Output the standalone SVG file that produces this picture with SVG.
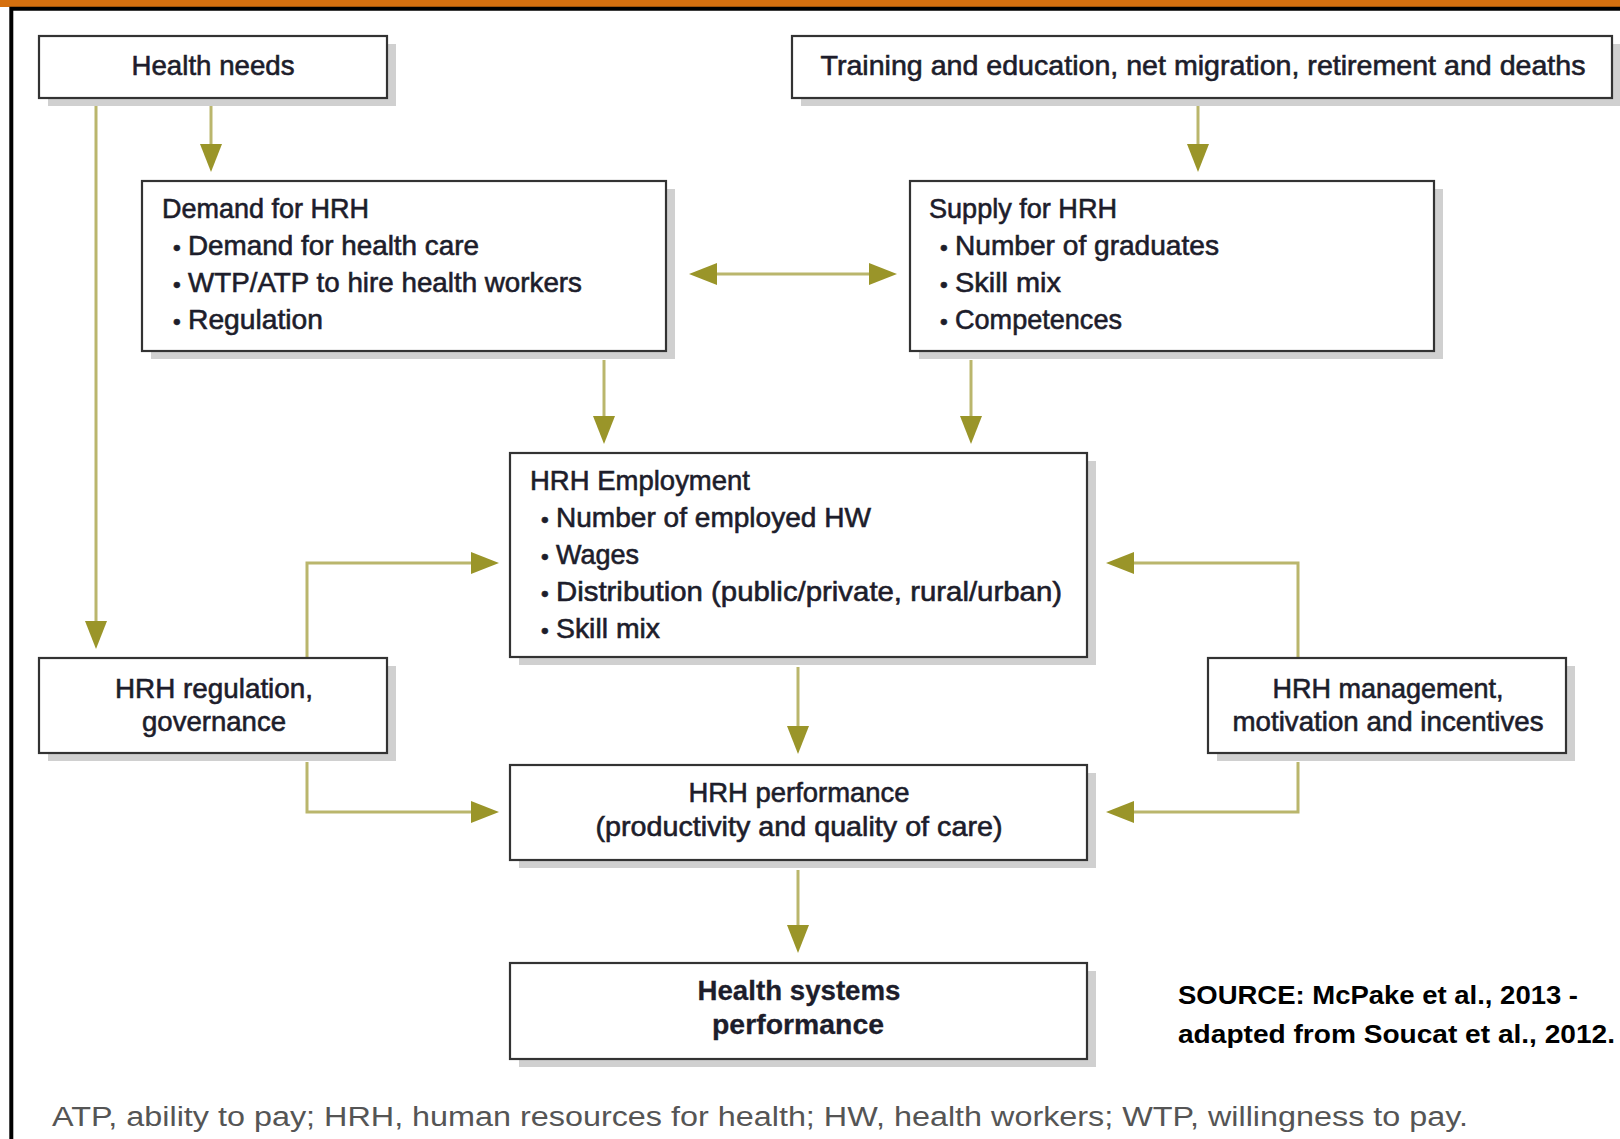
<svg xmlns="http://www.w3.org/2000/svg" width="1620" height="1139" viewBox="0 0 1620 1139">
<style>
.box{fill:#fff;stroke:#333;stroke-width:2.2}
.sh{fill:#d0d0d0}
.t{font-family:"Liberation Sans",Arial,sans-serif;font-size:28px;fill:#1d1d2b;stroke:#1d1d2b;stroke-width:0.6}
.c{text-anchor:middle}
.bd{font-weight:bold;stroke-width:0.3}
.bu{font-size:22px}
.ln{fill:none;stroke:#bab66c;stroke-width:3;marker-end:url(#ah)}
.dbl{marker-start:url(#ah)}
.src{font-family:"Liberation Sans",Arial,sans-serif;font-size:26px;font-weight:bold;fill:#000}
.fn{font-family:"Liberation Sans",Arial,sans-serif;font-size:27px;fill:#555}
</style>
<defs>
<marker id="ah" markerUnits="userSpaceOnUse" markerWidth="30" markerHeight="24" viewBox="0 -12 30 24" refX="0" refY="0" orient="auto-start-reverse">
<path d="M0,-11 L28,0 L0,11 Z" fill="#9a9529"/>
</marker>
</defs>
<rect x="0" y="0" width="1620" height="1139" fill="#fff"/>
<rect x="0" y="0" width="1620" height="7" fill="#d5700f"/>
<path d="M11.3,1139 V8.7 H1620" fill="none" stroke="#000" stroke-width="4"/>

<g id="connectors">
<path class="ln" d="M211,105 V144"/>
<path class="ln" d="M96,105 V621"/>
<path class="ln" d="M1198,106 V144"/>
<path class="ln dbl" d="M717,274 H869"/>
<path class="ln" d="M604,360 V416"/>
<path class="ln" d="M971,360 V416"/>
<path class="ln" d="M307,657 V563 H471"/>
<path class="ln" d="M307,762 V812 H471"/>
<path class="ln" d="M1298,657 V563 H1134"/>
<path class="ln" d="M1298,762 V812 H1134"/>
<path class="ln" d="M798,667 V726"/>
<path class="ln" d="M798,870 V925"/>
</g>

<g id="health-needs">
<rect class="sh" x="48" y="44" width="348" height="62"/>
<rect class="box" x="39" y="36" width="348" height="62"/>
<text class="t c" x="213" y="75" textLength="163" lengthAdjust="spacingAndGlyphs">Health needs</text>
</g>

<g id="training">
<rect class="sh" x="801" y="44" width="820" height="62"/>
<rect class="box" x="792" y="36" width="820" height="62"/>
<text class="t c" x="1203" y="75" textLength="765" lengthAdjust="spacingAndGlyphs">Training and education, net migration, retirement and deaths</text>
</g>

<g id="demand">
<rect class="sh" x="151" y="189" width="524" height="170"/>
<rect class="box" x="142" y="181" width="524" height="170"/>
<text class="t" x="162" y="218" textLength="207" lengthAdjust="spacingAndGlyphs">Demand for HRH</text>
<text class="t" y="255"><tspan class="bu" x="173">•</tspan><tspan x="188" textLength="291" lengthAdjust="spacingAndGlyphs">Demand for health care</tspan></text>
<text class="t" y="292"><tspan class="bu" x="173">•</tspan><tspan x="188" textLength="394" lengthAdjust="spacingAndGlyphs">WTP/ATP to hire health workers</tspan></text>
<text class="t" y="329"><tspan class="bu" x="173">•</tspan><tspan x="188" textLength="135" lengthAdjust="spacingAndGlyphs">Regulation</tspan></text>
</g>

<g id="supply">
<rect class="sh" x="919" y="189" width="524" height="170"/>
<rect class="box" x="910" y="181" width="524" height="170"/>
<text class="t" x="929" y="218" textLength="188" lengthAdjust="spacingAndGlyphs">Supply for HRH</text>
<text class="t" y="255"><tspan class="bu" x="940">•</tspan><tspan x="955" textLength="264" lengthAdjust="spacingAndGlyphs">Number of graduates</tspan></text>
<text class="t" y="292"><tspan class="bu" x="940">•</tspan><tspan x="955" textLength="106" lengthAdjust="spacingAndGlyphs">Skill mix</tspan></text>
<text class="t" y="329"><tspan class="bu" x="940">•</tspan><tspan x="955" textLength="167" lengthAdjust="spacingAndGlyphs">Competences</tspan></text>
</g>

<g id="employment">
<rect class="sh" x="519" y="461" width="577" height="204"/>
<rect class="box" x="510" y="453" width="577" height="204"/>
<text class="t" x="530" y="490" textLength="220" lengthAdjust="spacingAndGlyphs">HRH Employment</text>
<text class="t" y="527"><tspan class="bu" x="541">•</tspan><tspan x="556" textLength="315" lengthAdjust="spacingAndGlyphs">Number of employed HW</tspan></text>
<text class="t" y="564"><tspan class="bu" x="541">•</tspan><tspan x="556" textLength="83" lengthAdjust="spacingAndGlyphs">Wages</tspan></text>
<text class="t" y="601"><tspan class="bu" x="541">•</tspan><tspan x="556" textLength="506" lengthAdjust="spacingAndGlyphs">Distribution (public/private, rural/urban)</tspan></text>
<text class="t" y="638"><tspan class="bu" x="541">•</tspan><tspan x="556" textLength="104" lengthAdjust="spacingAndGlyphs">Skill mix</tspan></text>
</g>

<g id="regulation">
<rect class="sh" x="48" y="666" width="348" height="95"/>
<rect class="box" x="39" y="658" width="348" height="95"/>
<text class="t c" x="214" y="698" textLength="198" lengthAdjust="spacingAndGlyphs">HRH regulation,</text>
<text class="t c" x="214" y="731" textLength="144" lengthAdjust="spacingAndGlyphs">governance</text>
</g>

<g id="management">
<rect class="sh" x="1217" y="666" width="358" height="95"/>
<rect class="box" x="1208" y="658" width="358" height="95"/>
<text class="t c" x="1388" y="698" textLength="231" lengthAdjust="spacingAndGlyphs">HRH management,</text>
<text class="t c" x="1388" y="731" textLength="311" lengthAdjust="spacingAndGlyphs">motivation and incentives</text>
</g>

<g id="performance">
<rect class="sh" x="519" y="773" width="577" height="95"/>
<rect class="box" x="510" y="765" width="577" height="95"/>
<text class="t c" x="799" y="802" textLength="221" lengthAdjust="spacingAndGlyphs">HRH performance</text>
<text class="t c" x="799" y="836" textLength="407" lengthAdjust="spacingAndGlyphs">(productivity and quality of care)</text>
</g>

<g id="health-systems">
<rect class="sh" x="519" y="971" width="577" height="96"/>
<rect class="box" x="510" y="963" width="577" height="96"/>
<text class="t c bd" x="799" y="1000" textLength="203" lengthAdjust="spacingAndGlyphs">Health systems</text>
<text class="t c bd" x="798" y="1034" textLength="172" lengthAdjust="spacingAndGlyphs">performance</text>
</g>

<g id="source">
<text class="src" x="1178" y="1004" textLength="400" lengthAdjust="spacingAndGlyphs">SOURCE: McPake et al., 2013 -</text>
<text class="src" x="1178" y="1043" textLength="437" lengthAdjust="spacingAndGlyphs">adapted from Soucat et al., 2012.</text>
</g>

<text class="fn" x="52" y="1126" textLength="1416" lengthAdjust="spacingAndGlyphs">ATP, ability to pay; HRH, human resources for health; HW, health workers; WTP, willingness to pay.</text>
</svg>
